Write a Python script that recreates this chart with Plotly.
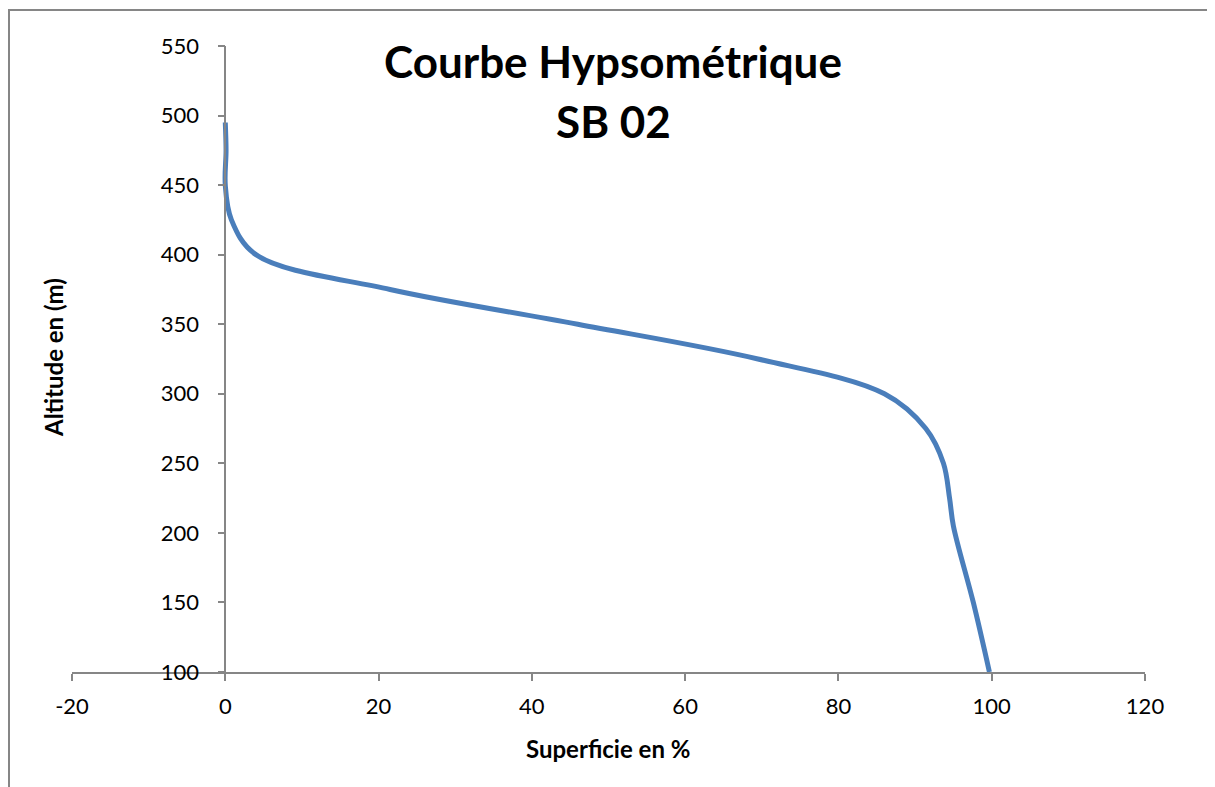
import plotly.graph_objects as go

# Data
altitude_m = [495, 475, 450, 425, 400, 375, 350, 325, 300, 275, 250, 225, 205, 150, 100]
superficie_pct = [0.0, 0.1, 0.0, 0.8, 4.0, 21.5, 46.0, 69.5, 86.0, 91.4, 93.7, 94.5, 95.0, 97.6, 99.7]

x_ticks = [-20, 0, 20, 40, 60, 80, 100, 120]
y_ticks = [100, 150, 200, 250, 300, 350, 400, 450, 500, 550]

W, H = 1215, 787
OFF = 8  # page body margin
# plot area in page pixels: x 72..1145, y 46..672
L, T = 72 - OFF, 46 - OFF
R, B = W - (1145 - OFF), H - (672 - OFF)
pw, ph = W - L - R, H - T - B

font_fam = "Lato, 'Open Sans', sans-serif"
axis_col = "#868686"

fig = go.Figure()
fig.add_trace(go.Scatter(
    x=superficie_pct, y=altitude_m, mode="lines",
    line=dict(color="#4A7EBB", width=5, shape="spline", smoothing=1.0),
    showlegend=False, hoverinfo="x+y",
))

fig.update_layout(
    width=W, height=H,
    margin=dict(l=L, r=R, t=T, b=B, pad=0),
    paper_bgcolor="white", plot_bgcolor="white",
    font=dict(family=font_fam, color="black"),
    xaxis=dict(
        range=[-20, 120], tickvals=x_ticks, ticktext=[str(v) for v in x_ticks],
        showgrid=False, zeroline=False, showline=True, linecolor=axis_col, linewidth=1.5,
        ticks="outside", ticklen=7, tickcolor=axis_col, tickwidth=1.5,
        ticklabelstandoff=7,
        tickfont=dict(size=22, family=font_fam, color="black"),
    ),
    yaxis=dict(
        range=[100, 550], tickvals=y_ticks, ticktext=[str(v) for v in y_ticks],
        showgrid=False, zeroline=False, showline=True, linecolor=axis_col, linewidth=1.5,
        ticks="outside", ticklen=7, tickcolor=axis_col, tickwidth=1.5,
        ticklabelstandoff=14,
        tickfont=dict(size=22, family=font_fam, color="black"),
        anchor="free", position=20 / 140,
    ),
)

def px_to_paper_x(px):
    return (px - OFF - L) / pw

def px_to_paper_y(py):
    return (H - B - (py - OFF)) / ph

# Chart-area border (extends past the bottom/right of the picture)
fig.add_shape(type="rect", xref="paper", yref="paper",
              x0=px_to_paper_x(OFF + 1), x1=px_to_paper_x(W + 40),
              y0=px_to_paper_y(H + 40), y1=px_to_paper_y(10),
              line=dict(color=axis_col, width=2), fillcolor="rgba(0,0,0,0)", layer="below")

# Title
fig.add_annotation(text="<b>Courbe Hypsométrique</b>", xref="paper", yref="paper",
                   x=px_to_paper_x(613), y=px_to_paper_y(61), showarrow=False,
                   xanchor="center", yanchor="middle",
                   font=dict(size=44, family=font_fam, color="black"))
fig.add_annotation(text="<b>SB 02</b>", xref="paper", yref="paper",
                   x=px_to_paper_x(613), y=px_to_paper_y(121), showarrow=False,
                   xanchor="center", yanchor="middle",
                   font=dict(size=44, family=font_fam, color="black"))

# Axis titles
fig.add_annotation(text="<b>Superficie en %</b>", xref="paper", yref="paper",
                   x=px_to_paper_x(608), y=px_to_paper_y(748), showarrow=False,
                   xanchor="center", yanchor="middle",
                   font=dict(size=24, family=font_fam, color="black"))
fig.add_annotation(text="<b>Altitude en (m)</b>", xref="paper", yref="paper",
                   x=px_to_paper_x(53), y=px_to_paper_y(358), showarrow=False,
                   xanchor="center", yanchor="middle", textangle=-90,
                   font=dict(size=24, family=font_fam, color="black"))

fig.write_html("out.html")
